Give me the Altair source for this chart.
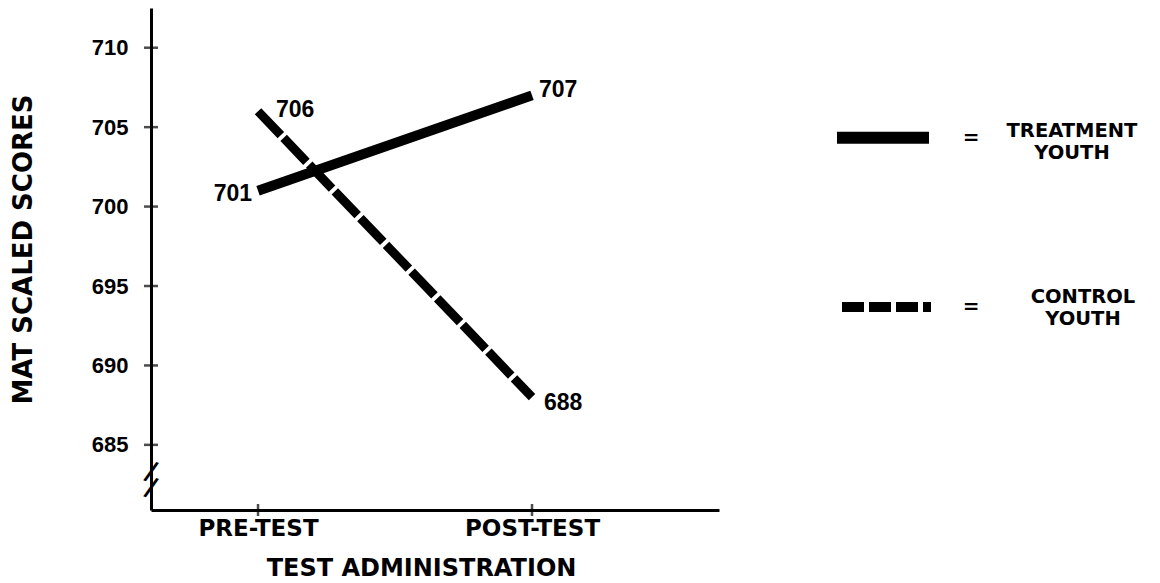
import altair as alt
import pandas as pd

# ---- data ----
phases = ["PRE-TEST", "POST-TEST"]
groups = ["TREATMENT YOUTH", "CONTROL YOUTH"]
treatment = [701, 707]
control = [706, 688]
y_ticks = [685, 690, 695, 700, 705, 710]
legend_lines = [["TREATMENT", "YOUTH"], ["CONTROL", "YOUTH"]]
axis_break = [683.3, 682.3]

rows = []
for g, vals in zip(groups, [treatment, control]):
    for p, v in zip(phases, vals):
        rows.append({"group": g, "phase": p, "score": v, "label": str(v)})
df = pd.DataFrame(rows)
ticks_df = pd.DataFrame({"score": y_ticks})
phase_df = pd.DataFrame({"phase": phases})
break_df = pd.DataFrame({"score": axis_break, "txt": ["/"] * len(axis_break)})
legend_df = pd.DataFrame({"group": groups, "txt": ["\n".join(l) for l in legend_lines], "eq": ["=", "="]})

W, H = 568, 502
NUM_FONT = "Liberation Sans"
FONT = "DejaVu Sans"

X_ENC = alt.X(
    "phase:N", sort=phases,
    scale=alt.Scale(type="point", padding=0.5365, align=0.364),
    axis=alt.Axis(
        title="TEST ADMINISTRATION", titleFont=FONT, titleFontSize=24, titleFontWeight="bold",
        titleColor="black", titleX=270, titleY=58, titleBaseline="middle", titleAnchor="start",
        titleAlign="center",
        labelFont=FONT, labelFontSize=23, labelFontWeight="bold", labelColor="black",
        labelPadding=7, labelAngle=0, ticks=False, tickSize=0,
        domainColor="black", domainWidth=3, grid=False,
    ),
)
Y_ENC = alt.Y(
    "score:Q",
    scale=alt.Scale(domain=[680.9, 712.5], nice=False, zero=False),
    axis=alt.Axis(
        values=y_ticks, title="MAT SCALED SCORES", titleFont=FONT, titleFontSize=26,
        titleFontWeight="bold", titleColor="black", titleX=-128, titleY=241,
        titleBaseline="middle", titleAlign="center", titleAngle=270,
        labelFont=NUM_FONT, labelFontSize=22, labelFontWeight="bold", labelColor="black",
        labelPadding=23, ticks=False, tickSize=0, domainColor="black", domainWidth=3, grid=False,
    ),
)

base = alt.Chart(df)

treat_line = base.transform_filter(alt.datum.group == groups[0]).mark_line(
    color="black", strokeWidth=10, strokeCap="butt"
).encode(x=X_ENC, y=Y_ENC)

ctrl_line = base.transform_filter(alt.datum.group == groups[1]).mark_line(
    color="black", strokeWidth=9, strokeCap="butt", strokeDash=[33, 4]
).encode(x=X_ENC, y=Y_ENC)

label_specs = [
    (groups[0], phases[0], "right", -6, 3),
    (groups[1], phases[0], "left", 18, -1),
    (groups[0], phases[1], "left", 7, -5),
    (groups[1], phases[1], "left", 12, 6),
]
label_layers = []
for g, p, al, dx, dy in label_specs:
    label_layers.append(
        base.transform_filter((alt.datum.group == g) & (alt.datum.phase == p)).mark_text(
            font=NUM_FONT, fontSize=23, fontWeight="bold", color="black",
            align=al, baseline="middle", dx=dx, dy=dy,
        ).encode(x=X_ENC, y=Y_ENC, text="label:N")
    )

y_tick_marks = alt.Chart(ticks_df).mark_tick(
    orient="horizontal", size=14, thickness=2.5, color="black"
).encode(y=Y_ENC, x=alt.value(0))

x_tick_marks = alt.Chart(phase_df).mark_tick(
    orient="vertical", size=12, thickness=2.5, color="black"
).encode(x=X_ENC, y=alt.value(H))

break_mark = alt.Chart(break_df).mark_text(
    font=FONT, fontSize=26, fontWeight="bold", color="black",
    angle=18, align="center", baseline="middle",
).encode(y=Y_ENC, x=alt.value(0), text="txt:N")

main = alt.layer(
    treat_line, ctrl_line, *label_layers, y_tick_marks, x_tick_marks, break_mark
).properties(width=W, height=H)

# ---- legend panel ----
LY = alt.Y("group:N", sort=groups, scale=alt.Scale(type="point", range=[129.7, 299], padding=0), axis=None)
lbase = alt.Chart(legend_df)
leg_treat = lbase.transform_filter(alt.datum.group == groups[0]).mark_rule(
    color="black", strokeWidth=12, strokeCap="butt"
).encode(x=alt.value(8), x2=alt.value(100), y=LY)
leg_ctrl = lbase.transform_filter(alt.datum.group == groups[1]).mark_rule(
    color="black", strokeWidth=10, strokeCap="butt", strokeDash=[22, 5]
).encode(x=alt.value(13), x2=alt.value(102), y=LY)
leg_eq = lbase.mark_text(
    font=FONT, fontSize=20, fontWeight="bold", color="black", align="center", baseline="middle"
).encode(x=alt.value(142), y=LY, text="eq:N")
leg_t1 = lbase.transform_filter(alt.datum.group == groups[0]).mark_text(
    font=FONT, fontSize=19.5, fontWeight="bold", color="black", align="center",
    baseline="middle", lineBreak="\n", lineHeight=22, dy=-7,
).encode(x=alt.value(243), y=LY, text="txt:N")
leg_t2 = lbase.transform_filter(alt.datum.group == groups[1]).mark_text(
    font=FONT, fontSize=19.5, fontWeight="bold", color="black", align="center",
    baseline="middle", lineBreak="\n", lineHeight=22, dy=-10,
).encode(x=alt.value(254), y=LY, text="txt:N")

legend = alt.layer(leg_treat, leg_ctrl, leg_eq, leg_t1, leg_t2).properties(width=320, height=H)

chart = alt.hconcat(main, legend, spacing=110).properties(
    padding={"left": 2, "top": 0, "right": 0, "bottom": 0}, background="white"
).configure_view(stroke=None, strokeWidth=0)

chart.save("out.html", embed_options={"renderer": "svg", "actions": False})
